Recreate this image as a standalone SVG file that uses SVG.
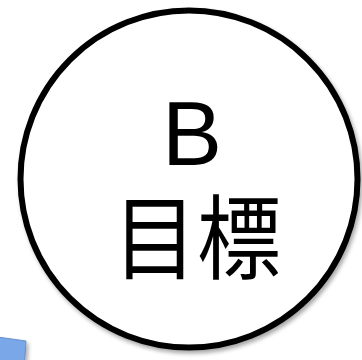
<svg xmlns="http://www.w3.org/2000/svg" width="362" height="360" viewBox="0 0 362 360">
<defs>
<filter id="sh" x="-20%" y="-20%" width="140%" height="140%">
<feGaussianBlur in="SourceAlpha" stdDeviation="2"/>
<feOffset dx="2" dy="3" result="b"/>
<feComponentTransfer><feFuncA type="linear" slope="0.35"/></feComponentTransfer>
<feMerge><feMergeNode/><feMergeNode in="SourceGraphic"/></feMerge>
</filter>
</defs>
<style>
.lbl{font-family:"Liberation Sans","Noto Sans CJK JP",sans-serif;fill:#000;text-anchor:middle}
</style>
<rect width="362" height="360" fill="#fff"/>
<g id="blue-shape" filter="url(#sh)">
<polygon points="-10,336 26,341 24,370 -10,370" fill="#79a7e8" stroke="#6390d4" stroke-width="1"/>
</g>
<g id="node-b">
<circle cx="189" cy="179" r="168.5" fill="#fff" stroke="#000" stroke-width="6" filter="url(#sh)"/>
<text class="lbl" x="192" y="165" font-size="90">B</text>
<text class="lbl" transform="translate(197,272) scale(1,1.1)" x="0" y="0" font-size="84">目標</text>
</g>
<g id="connectors"/>
</svg>
